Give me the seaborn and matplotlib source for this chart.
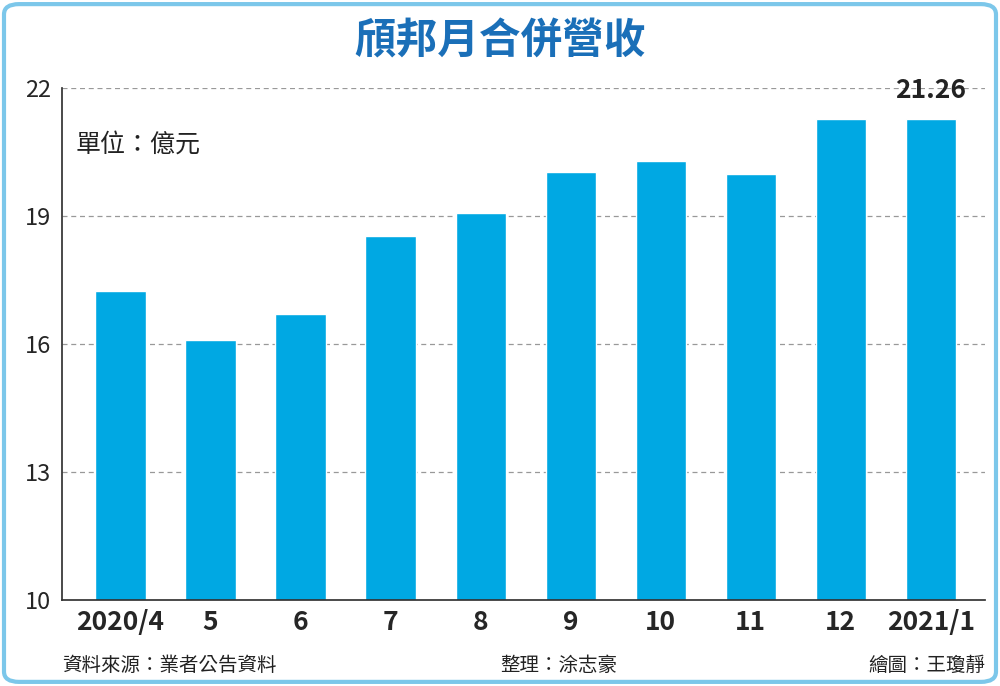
import matplotlib
matplotlib.use("Agg")
import matplotlib.pyplot as plt
import seaborn as sns
import pandas as pd
from matplotlib.patches import FancyBboxPatch

months = ["2020/4", "5", "6", "7", "8", "9", "10", "11", "12", "2021/1"]
revenue = [17.24, 16.09, 16.70, 18.53, 19.07, 20.03, 20.29, 19.98, 21.27, 21.26]
yticks = [10, 13, 16, 19, 22]

sns.set_theme(style="white")
plt.rcParams['font.family'] = ['Noto Sans CJK TC', 'DejaVu Sans']

df = pd.DataFrame({"m": months, "v": revenue})
fig = plt.figure(figsize=(10, 6.86), dpi=100)
fig.patches.append(FancyBboxPatch((0.004, 0.006), 0.992, 0.988, boxstyle="round,pad=0,rounding_size=0.015",
                                  transform=fig.transFigure, fc="none", ec="#7cc7ea", lw=3))
ax = fig.add_axes([0.062, 0.125, 0.923, 0.747])
ax.set_facecolor("none")
sns.barplot(data=df, x="m", y="v", color="#00a8e3", width=0.56, ax=ax, saturation=1)
ax.set_ylim(10, 22)
ax.set_yticks(yticks)
ax.set_yticklabels([str(t) for t in yticks], fontsize=17)
for t in yticks[1:]:
    ax.axhline(t, color="#999999", ls=(0, (4, 3)), lw=0.9, zorder=0)
ax.set_xlabel(""); ax.set_ylabel("")
ax.tick_params(axis="x", labelsize=19, length=0, pad=6)
ax.tick_params(axis="y", length=0, pad=8)
for lbl in ax.get_xticklabels():
    lbl.set_fontweight("bold")
for s in ["top", "right"]:
    ax.spines[s].set_visible(False)
ax.spines["left"].set_color("#333333")
ax.spines["bottom"].set_color("#333333")
ax.set_xlim(-0.65, 9.6)
ax.text(9, revenue[-1] + 0.35, f"{revenue[-1]:.2f}", ha="center", va="bottom", fontsize=19, fontweight="bold", color="#222222")
ax.text(0.015, 0.89, "單位：億元", transform=ax.transAxes, fontsize=18, va="center", color="#222222")
fig.text(0.5, 0.94, "頎邦月合併營收", ha="center", va="center", fontsize=30, fontweight="bold", color="#1a6fb8")
fig.text(0.062, 0.03, "資料來源：業者公告資料", fontsize=14, color="#222222", va="center")
fig.text(0.5, 0.03, "整理：涂志豪", fontsize=14, color="#222222", va="center")
fig.text(0.985, 0.03, "繪圖：王瓊靜", fontsize=14, color="#222222", va="center", ha="right")
fig.savefig("out.png", dpi=100)
